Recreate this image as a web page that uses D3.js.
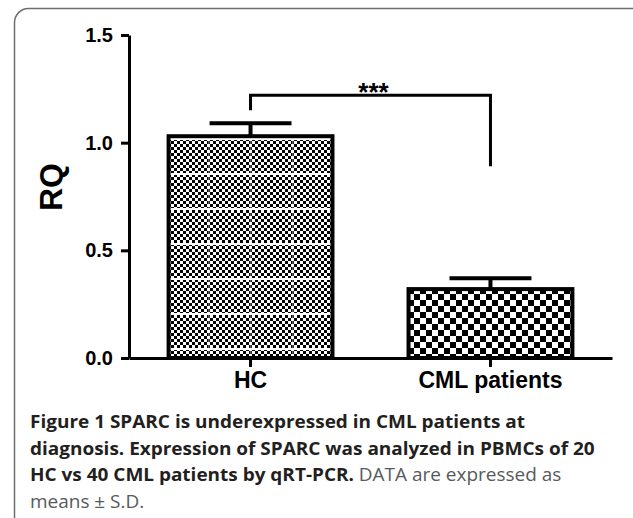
<html>
<head>
<meta charset="utf-8">
<script src="https://d3js.org/d3.v7.min.js"></script>
<style>
    body { margin: 0; background: white; }
    svg { display: block; }
    .axis text { font-family: "Liberation Sans", Arial, sans-serif; font-weight: bold; fill: #000; }
    .axis path, .axis line { stroke: #000; stroke-width: 3; }
    .caption { font-family: "Open Sans", sans-serif; font-size: 18px; }
</style>
</head>
<body>
<svg width=633 height=518></svg>
<script>
    // values
    var categories = ["HC", "CML patients"];
    var means = [1.03, 0.32];
    var sds = [0.06, 0.05];
    var yTicks = [0, 0.5, 1.0, 1.5];
    var yLabel = "RQ";
    var sigLabel = "***";
    var bracketLegEnds = [1.15, 0.89];
    var bracketTop = 1.22;
    var captionLines = [
        [["Figure 1 SPARC is underexpressed in CML patients at", true]],
        [["diagnosis. Expression of SPARC was analyzed in PBMCs of 20", true]],
        [["HC vs 40 CML patients by qRT-PCR.", true], [" DATA are expressed as", false]],
        [["means \u00b1 S.D.", false]]
    ];

    var svg = d3.select("svg");

    // frame round the figure
    svg.append("rect")
        .attr("x", 14.5).attr("y", 8.5)
        .attr("width", 700).attr("height", 600)
        .attr("rx", 14)
        .attr("fill", "none")
        .attr("stroke", "#6d6e71")
        .attr("stroke-width", 1.5);

    var defs = svg.append("defs");

    // fine checker for HC
    var p1 = defs.append("pattern").attr("id", "fine")
        .attr("patternUnits", "userSpaceOnUse").attr("width", 6).attr("height", 6);
    p1.append("rect").attr("width", 6).attr("height", 6).attr("fill", "white");
    p1.append("rect").attr("width", 3).attr("height", 3).attr("fill", "black");
    p1.append("rect").attr("x", 3).attr("y", 3).attr("width", 3).attr("height", 3).attr("fill", "black");

    // white stripes running through the HC fill
    var p2 = defs.append("pattern").attr("id", "stripes")
        .attr("patternUnits", "userSpaceOnUse").attr("width", 42).attr("height", 35);
    p2.append("rect").attr("y", 33).attr("width", 42).attr("height", 2).attr("fill", "white");
    p2.append("rect").attr("x", 40).attr("width", 1.5).attr("height", 35).attr("fill", "white").attr("opacity", 0.35);

    // coarse checker for CML
    var p3 = defs.append("pattern").attr("id", "coarse")
        .attr("patternUnits", "userSpaceOnUse").attr("width", 12).attr("height", 12);
    p3.append("rect").attr("width", 12).attr("height", 12).attr("fill", "white");
    p3.append("rect").attr("width", 6).attr("height", 6).attr("fill", "black");
    p3.append("rect").attr("x", 6).attr("y", 6).attr("width", 6).attr("height", 6).attr("fill", "black");

    var ys = d3.scaleLinear().domain([0, 1.5]).range([358, 35]);
    var xs = d3.scaleBand().domain(categories).range([129, 612])
        .paddingInner(0.317).paddingOuter(0.165);
    var bw = xs.bandwidth();
    var cx = function (d) { return xs(d) + bw / 2; };

    var fills = [["url(#fine)", "url(#stripes)"], ["url(#coarse)"]];

    // bars
    categories.forEach(function (c, i) {
        fills[i].forEach(function (f) {
            svg.append("rect")
                .attr("x", xs(c)).attr("y", ys(means[i]))
                .attr("width", bw).attr("height", ys(0) - ys(means[i]))
                .attr("fill", f);
        });
        svg.append("rect")
            .attr("x", xs(c)).attr("y", ys(means[i]))
            .attr("width", bw).attr("height", ys(0) - ys(means[i]))
            .attr("fill", "none").attr("stroke", "black").attr("stroke-width", 4);

        // error bar, upper half only
        svg.append("line")
            .attr("x1", cx(c)).attr("x2", cx(c))
            .attr("y1", ys(means[i])).attr("y2", ys(means[i] + sds[i]))
            .attr("stroke", "black").attr("stroke-width", 4);
        svg.append("line")
            .attr("x1", cx(c) - bw / 4).attr("x2", cx(c) + bw / 4)
            .attr("y1", ys(means[i] + sds[i])).attr("y2", ys(means[i] + sds[i]))
            .attr("stroke", "black").attr("stroke-width", 4);
    });

    // significance bracket
    var bracket = d3.line()([
        [cx(categories[0]), ys(bracketLegEnds[0])],
        [cx(categories[0]), ys(bracketTop)],
        [cx(categories[1]), ys(bracketTop)],
        [cx(categories[1]), ys(bracketLegEnds[1])]
    ]);
    svg.append("path").attr("d", bracket)
        .attr("fill", "none").attr("stroke", "black").attr("stroke-width", 3);
    svg.append("text")
        .attr("x", (cx(categories[0]) + cx(categories[1])) / 2 + 3)
        .attr("y", ys(bracketTop) + 6)
        .attr("text-anchor", "middle")
        .style("font-family", "'Liberation Sans', Arial, sans-serif")
        .style("font-weight", "bold")
        .style("font-size", "26px")
        .text(sigLabel);

    // axes
    svg.append("g")
        .attr("class", "axis")
        .attr("transform", "translate(129,0)")
        .call(d3.axisLeft(ys).tickValues(yTicks).tickFormat(d3.format(".1f"))
            .tickSize(8).tickSizeOuter(0).tickPadding(8))
        .selectAll("text").style("font-size", "20px");

    svg.append("g")
        .attr("class", "axis")
        .attr("transform", "translate(0," + ys(0) + ")")
        .call(d3.axisBottom(xs).tickSize(9).tickSizeOuter(0).tickPadding(5))
        .selectAll("text").style("font-size", "23px");

    svg.append("text")
        .attr("transform", "translate(62,187) rotate(-90)")
        .attr("text-anchor", "middle")
        .style("font-family", "'Liberation Sans', Arial, sans-serif")
        .style("font-weight", "bold")
        .style("font-size", "32px")
        .text(yLabel);

    // caption
    var cap = svg.append("g").attr("class", "caption");
    captionLines.forEach(function (parts, li) {
        var t = cap.append("text").attr("x", 0).attr("y", 428 + li * 26.7);
        parts.forEach(function (p) {
            t.append("tspan")
                .attr("xml:space", "preserve")
                .style("font-weight", p[1] ? 700 : 400)
                .style("fill", p[1] ? "#231f20" : "#58595b")
                .text(p[0]);
        });
    });
    var w = cap.selectAll("text").nodes()[1].getComputedTextLength();
    cap.attr("transform", "translate(30,0) scale(" + (565 / w) + ",1)");
</script>
</body>
</html>
